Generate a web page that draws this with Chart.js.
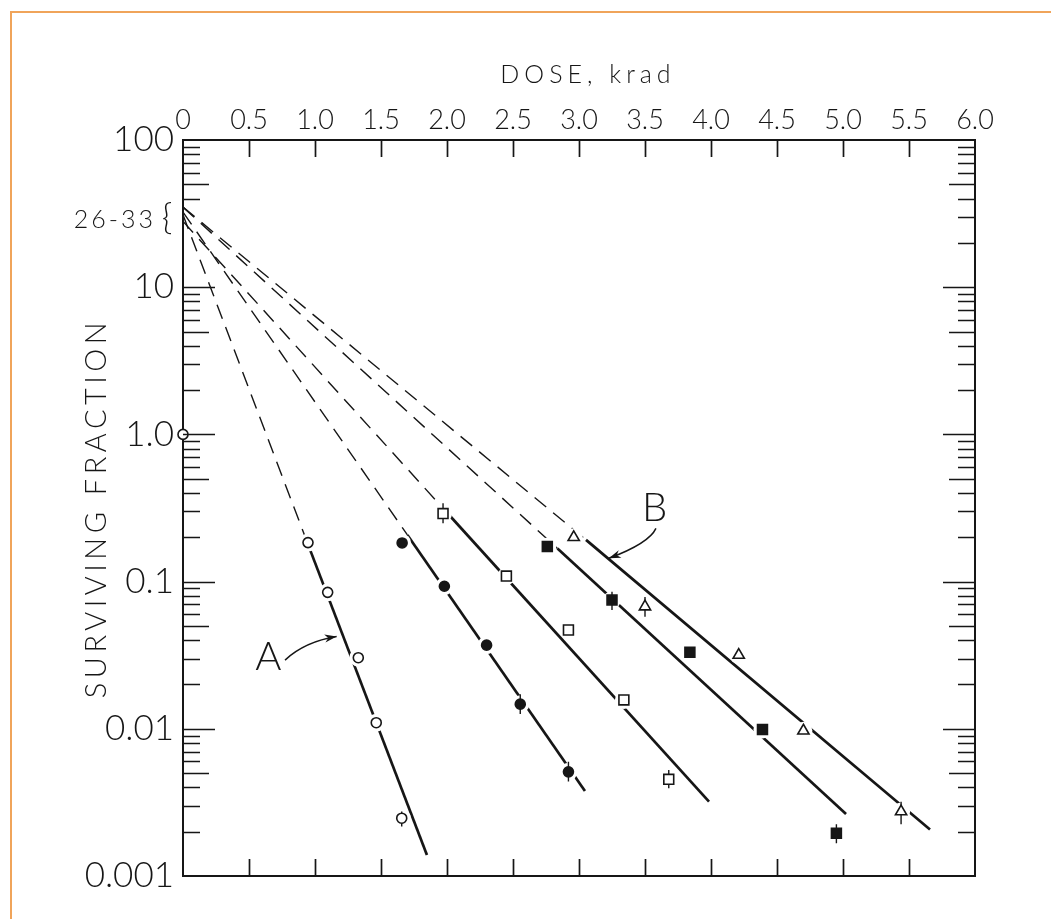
<!DOCTYPE html>
<html><head><meta charset="utf-8">
<script src="https://cdn.jsdelivr.net/npm/chart.js@4.4.1/dist/chart.umd.min.js"></script>
<style>
html,body{margin:0;padding:0;background:#fff;}
#wrap{position:relative;width:1051px;height:919px;overflow:hidden;}
#frame{position:absolute;left:10px;top:11px;width:1100px;height:1000px;border-left:2px solid #F0A45A;border-top:2px solid #F0A45A;}
canvas{position:absolute;left:0;top:0;}
</style></head><body>
<div id="wrap"><div id="frame"></div><canvas id="c" width="1051" height="919"></canvas></div>
<script>
// ---------- axis ticks ----------
const doseTicks = [0, 0.5, 1, 1.5, 2, 2.5, 3, 3.5, 4, 4.5, 5, 5.5, 6];
const doseTickLabels = ['0','0.5','1.0','1.5','2.0','2.5','3.0','3.5','4.0','4.5','5.0','5.5','6.0'];
const fracTickValues = [0.001, 0.01, 0.1, 1, 10, 100];
const fracTickLabels = ['0.001','0.01','0.1','1.0','10','100'];

// ---------- measured points ----------
const openCircleDose   = [0, 0.947, 1.096, 1.328, 1.464, 1.657];
const openCircleFrac   = [1.0, 0.184, 0.0845, 0.0304, 0.0110, 0.00247];
const filledCircleDose = [1.66, 1.98, 2.30, 2.555, 2.92];
const filledCircleFrac = [0.183, 0.093, 0.037, 0.0147, 0.0051];
const openSquareDose   = [1.97, 2.45, 2.92, 3.34, 3.68];
const openSquareFrac   = [0.29, 0.109, 0.0469, 0.0157, 0.00454];
const filledSquareDose = [2.76, 3.25, 3.84, 4.39, 4.95];
const filledSquareFrac = [0.173, 0.075, 0.0331, 0.0099, 0.00195];
const triangleDose     = [2.96, 3.50, 4.21, 4.70, 5.44];
const triangleFrac     = [0.20, 0.0676, 0.0317, 0.0097, 0.00274];

// ---------- error bars ----------
const errDose = [1.657, 1.97, 2.555, 2.92, 3.25, 3.50, 3.68, 4.95, 5.44];
const errLow  = [0.00217, 0.249, 0.0126, 0.00438, 0.0641, 0.0577, 0.00394, 0.00167, 0.00225];
const errHigh = [0.00274, 0.340, 0.0172, 0.00597, 0.0853, 0.0786, 0.00525, 0.00225, 0.0032];

// ---------- fitted lines: [extrapolated origin, start of drawn line, end] ----------
const lineADose  = [0, 0.947, 1.848]; const lineAFrac  = [31, 0.179, 0.00139];
const lineFCDose = [0, 1.70, 3.045];  const lineFCFrac = [32.4, 0.2075, 0.00378];
const lineOSDose = [0, 2.023, 3.985]; const lineOSFrac = [28, 0.279, 0.0032];
const lineFSDose = [0, 2.837, 5.023]; const lineFSFrac = [35, 0.168, 0.00264];
const lineTDose  = [0, 3.053, 5.659]; const lineTFrac  = [35, 0.192, 0.00207];

// ---------- annotations ----------
const interceptText = '26-33';
const interceptRange = [26, 33];
const labelA = {text: 'A', dose: 0.646, frac: 0.0309};
const labelB = {text: 'B', dose: 3.573, frac: 0.318};
const arrowADose = [0.773, 0.925, 1.164]; const arrowAFrac = [0.0293, 0.0391, 0.0423];
const arrowBDose = [3.583, 3.530, 3.226]; const arrowBFrac = [0.230, 0.182, 0.144];

const xTitle = 'DOSE, krad';
const yTitle = 'SURVIVING FRACTION';

// ---------- helpers ----------
const INK = '#161616';
const FONT = "Lato, 'Liberation Sans', 'DejaVu Sans', sans-serif";
const pts = (d, f) => d.map((x, i) => ({x, y: f[i]}));

function lineSets(d, f) {
  return [
    {data: pts(d.slice(0, 2), f.slice(0, 2)), showLine: true, borderColor: INK, borderWidth: 1.4,
     borderDash: [15, 9], pointRadius: 0, order: 5, clip: false},
    {data: pts(d.slice(1), f.slice(1)), showLine: true, borderColor: INK, borderWidth: 2.7,
     pointRadius: 0, order: 5, clip: false}
  ];
}
function haloSet(d, f) {
  return {data: pts(d, f), showLine: false, pointStyle: 'circle', borderWidth: 0,
    pointRadius: c => (c.raw && c.raw.x === 0 ? 0 : 9), backgroundColor: '#fff', order: 4, clip: false};
}
function markerSet(d, f, style, radius, filled) {
  return {data: pts(d, f), showLine: false, pointStyle: style, pointRadius: radius,
    pointBorderWidth: 1.6, borderColor: INK, pointBorderColor: INK,
    pointBackgroundColor: filled ? INK : '#fff', backgroundColor: filled ? INK : '#fff', order: 1, clip: false};
}
const errData = [];
errDose.forEach((x, i) => { errData.push({x, y: errLow[i]}, {x, y: errHigh[i]}, {x, y: null}); });

const datasets = [
  ...lineSets(lineADose, lineAFrac),
  ...lineSets(lineFCDose, lineFCFrac),
  ...lineSets(lineOSDose, lineOSFrac),
  ...lineSets(lineFSDose, lineFSFrac),
  ...lineSets(lineTDose, lineTFrac),
  haloSet(openCircleDose, openCircleFrac),
  haloSet(filledCircleDose, filledCircleFrac),
  haloSet(openSquareDose, openSquareFrac),
  haloSet(filledSquareDose, filledSquareFrac),
  haloSet(triangleDose, triangleFrac),
  {data: errData, showLine: true, spanGaps: false, borderColor: INK, borderWidth: 1.4, pointRadius: 0, order: 2, clip: false},
  markerSet(openCircleDose, openCircleFrac, 'circle', 5, false),
  markerSet(filledCircleDose, filledCircleFrac, 'circle', 5, true),
  markerSet(openSquareDose, openSquareFrac, 'rect', 7, false),
  markerSet(filledSquareDose, filledSquareFrac, 'rect', 7, true),
  markerSet(triangleDose, triangleFrac, 'triangle', 6.5, false)
];

// decade ticks with minor 2..9
const fracAllTicks = [];
for (let e = -3; e <= 2; e++) {
  for (let m = 1; m <= 9; m++) {
    const v = +(m * Math.pow(10, e)).toPrecision(6);
    if (v <= 100) fracAllTicks.push(v);
  }
}
function fracLabel(v) {
  const i = fracTickValues.findIndex(t => Math.abs(t - v) / t < 1e-6);
  return i >= 0 ? fracTickLabels[i] : '';
}
function mantissa(v) {
  const e = Math.floor(Math.log10(v) + 1e-9);
  return Math.round(v / Math.pow(10, e));
}

// ---------- plugins ----------
const titleSpacing = {
  id: 'titleSpacing',
  beforeDraw(chart) {
    [['x', '5px', 9], ['y', '4.5px', 0]].forEach(([id, sp, dx]) => {
      const s = chart.scales[id];
      if (!s || s._spaced) return;
      const orig = s.drawTitle;
      s.drawTitle = function () {
        const ctx = this.ctx;
        ctx.save();
        ctx.letterSpacing = sp;
        ctx.translate(dx, 0);
        orig.apply(this, arguments);
        ctx.restore();
      };
      s._spaced = true;
    });
  }
};

const tickMarks = {
  id: 'tickMarks',
  afterDatasetsDraw(chart) {
    const ctx = chart.ctx;
    const {left, right, top, bottom} = chart.chartArea;
    const xs = chart.scales.x, ys = chart.scales.y;
    ctx.save();
    ctx.strokeStyle = INK;
    ctx.lineWidth = 1.7;
    ctx.beginPath();
    xs.ticks.forEach(t => {
      if (t.value <= 0 || t.value >= 6) return;
      const p = Math.round(xs.getPixelForValue(t.value)) + 0.5;
      ctx.moveTo(p, top); ctx.lineTo(p, top + 17);
      ctx.moveTo(p, bottom); ctx.lineTo(p, bottom - 17);
    });
    ys.ticks.forEach(t => {
      const v = t.value;
      if (v <= 0.001 * 1.0001 || v >= 100 * 0.9999) return;
      const m = mantissa(v);
      const len = m === 1 ? 32 : (m === 5 ? 26 : 17);
      const p = Math.round(ys.getPixelForValue(v)) + 0.5;
      if (!(v > 10 && (m === 2 || m === 3))) { ctx.moveTo(left, p); ctx.lineTo(left + len, p); }
      ctx.moveTo(right, p); ctx.lineTo(right - len, p);
    });
    ctx.stroke();
    ctx.restore();
  }
};

const annotations = {
  id: 'annotations',
  afterDatasetsDraw(chart) {
    const ctx = chart.ctx;
    const xs = chart.scales.x, ys = chart.scales.y;
    const X = v => xs.getPixelForValue(v), Y = v => ys.getPixelForValue(v);
    ctx.save();
    ctx.fillStyle = INK; ctx.strokeStyle = INK;
    // curve labels
    ctx.font = "300 40px " + FONT;
    ctx.textAlign = 'center'; ctx.textBaseline = 'middle';
    [labelA, labelB].forEach(l => ctx.fillText(l.text, X(l.dose), Y(l.frac)));
    // arrows
    [[arrowADose, arrowAFrac], [arrowBDose, arrowBFrac]].forEach(([d, f]) => {
      const p0 = [X(d[0]), Y(f[0])], c = [X(d[1]), Y(f[1])], p2 = [X(d[2]), Y(f[2])];
      ctx.lineWidth = 1.5;
      ctx.beginPath(); ctx.moveTo(p0[0], p0[1]); ctx.quadraticCurveTo(c[0], c[1], p2[0], p2[1]); ctx.stroke();
      const ang = Math.atan2(p2[1] - c[1], p2[0] - c[0]);
      const L = 12, W = 4;
      ctx.beginPath();
      ctx.moveTo(p2[0], p2[1]);
      ctx.lineTo(p2[0] - L * Math.cos(ang) + W * Math.sin(ang), p2[1] - L * Math.sin(ang) - W * Math.cos(ang));
      ctx.lineTo(p2[0] - L * 0.7 * Math.cos(ang), p2[1] - L * 0.7 * Math.sin(ang));
      ctx.lineTo(p2[0] - L * Math.cos(ang) - W * Math.sin(ang), p2[1] - L * Math.sin(ang) + W * Math.cos(ang));
      ctx.closePath(); ctx.fill();
    });
    // intercept bracket label
    const yMid = Y(Math.sqrt(interceptRange[0] * interceptRange[1]));
    const left = chart.chartArea.left;
    ctx.font = "300 25px " + FONT;
    ctx.letterSpacing = '3px';
    ctx.textAlign = 'right';
    ctx.fillText(interceptText, left - 27, yMid + 1);
    ctx.letterSpacing = '0px';
    ctx.font = "300 36px " + FONT;
    ctx.textAlign = 'center';
    ctx.fillText('{', left - 16, yMid - 1);
    ctx.restore();
  }
};

new Chart(document.getElementById('c'), {
  type: 'scatter',
  data: {datasets},
  options: {
    responsive: false,
    animation: false,
    events: [],
    layout: {padding: 0},
    plugins: {legend: {display: false}, tooltip: {enabled: false}},
    scales: {
      x: {
        type: 'linear', position: 'top', min: 0, max: 6,
        afterBuildTicks: s => { s.ticks = doseTicks.map(v => ({value: v})); },
        afterFit: s => { s.height = 140; },
        ticks: {autoSkip: false, maxRotation: 0, padding: 4, color: INK,
          font: {family: FONT, size: 27, weight: '300'},
          callback: (v, i) => doseTickLabels[i]},
        grid: {display: false, drawTicks: false},
        border: {display: true, color: INK, width: 2},
        title: {display: true, text: xTitle, color: INK, padding: {top: 60, bottom: 0},
          font: {family: FONT, size: 25, weight: '300'}}
      },
      xb: {
        type: 'linear', position: 'bottom', min: 0, max: 6,
        afterFit: s => { s.height = 43; },
        ticks: {display: false},
        grid: {display: false, drawTicks: false},
        border: {display: true, color: INK, width: 2}
      },
      y: {
        type: 'logarithmic', position: 'left', min: 0.001, max: 100,
        afterBuildTicks: s => { s.ticks = fracAllTicks.map(v => ({value: v, major: mantissa(v) === 1})); },
        afterFit: s => { s.width = 183; },
        ticks: {autoSkip: false, padding: 9, color: INK,
          font: {family: FONT, size: 35, weight: '300'},
          callback: v => fracLabel(v)},
        grid: {display: false, drawTicks: false},
        border: {display: true, color: INK, width: 2},
        title: {display: true, text: yTitle, color: INK, padding: {top: 79, bottom: 0},
          font: {family: FONT, size: 29, weight: '300'}}
      },
      yr: {
        type: 'logarithmic', position: 'right', min: 0.001, max: 100,
        afterFit: s => { s.width = 76; },
        ticks: {display: false},
        grid: {display: false, drawTicks: false},
        border: {display: true, color: INK, width: 2}
      }
    }
  },
  plugins: [titleSpacing, tickMarks, annotations]
});
</script>
</body></html>
